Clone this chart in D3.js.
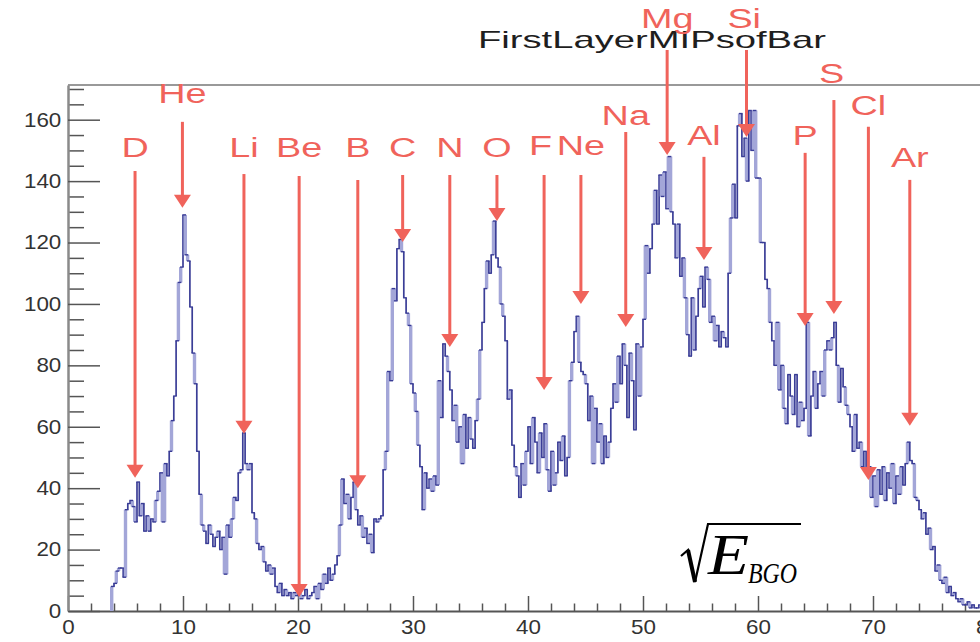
<!DOCTYPE html>
<html>
<head>
<meta charset="utf-8">
<script src="https://cdn.jsdelivr.net/npm/d3@7"></script>
<style>
  body { margin: 0; background: #fff; }
  svg { display: block; font-family: "Liberation Sans", Arial, Helvetica, sans-serif; }
</style>
</head>
<body>
<svg id="chart" width="980" height="642"></svg>
<script>
// histogram: bins of 0.2 starting at 3.8
const binStart = 3.8;
const binWidth = 0.2;
const counts = [
  8,
  9, 13, 14, 14, 11,
  33, 35, 36, 34, 29,
  42, 31, 35, 26, 31,
  26, 30, 29, 36, 39,
  45, 29, 48, 44, 52,
  62, 70, 88, 107, 112,
  129, 116, 114, 99, 84,
  74, 52, 38, 28, 26,
  22, 28, 25, 21, 24,
  26, 20, 24, 12, 28,
  24, 30, 37, 36, 45,
  46, 58, 48, 46, 48,
  32, 30, 22, 20, 21,
  16, 13, 15, 12, 14,
  8, 6, 9, 5, 7,
  5, 6, 4, 6, 5,
  6, 4, 5, 7, 4,
  5, 6, 8, 4, 9,
  7, 12, 9, 14, 10,
  12, 15, 18, 28, 43,
  35, 38, 30, 37, 42,
  33, 28, 31, 24, 27,
  22, 25, 19, 30, 29,
  30, 31, 46, 52, 78,
  75, 105, 101, 118, 121,
  117, 102, 97, 93, 74,
  71, 65, 54, 47, 33,
  45, 40, 43, 39, 44,
  41, 75, 63, 87, 83,
  78, 72, 62, 67, 55,
  60, 48, 64, 53, 63,
  56, 53, 62, 69, 85,
  94, 105, 114, 110, 116,
  127, 115, 112, 100, 96,
  88, 69, 72, 54, 47,
  44, 37, 48, 41, 52,
  60, 48, 63, 55, 45,
  58, 50, 61, 46, 39,
  52, 41, 45, 55, 49,
  57, 44, 50, 75, 81,
  91, 96, 81, 78, 77,
  74, 62, 70, 48, 66,
  55, 61, 48, 57, 50,
  55, 66, 74, 68, 83,
  74, 87, 80, 63, 84,
  75, 59, 87, 70, 86,
  95, 119, 110, 118, 126,
  137, 126, 142, 135, 143,
  131, 148, 130, 126, 115,
  126, 109, 115, 102, 90,
  83, 102, 85, 96, 105,
  109, 99, 112, 108, 94,
  96, 88, 93, 86, 91,
  89, 86, 110, 128, 139,
  128, 158, 162, 148, 154,
  140, 163, 150, 163, 141,
  141, 120, 120, 108, 105,
  94, 88, 80, 94, 72,
  80, 66, 61, 77, 70,
  64, 77, 60, 68, 62,
  66, 94, 57, 70, 78,
  66, 74, 78, 70, 85,
  88, 85, 89, 94, 80,
  68, 79, 73, 67, 64,
  60, 52, 64, 53, 55,
  47, 52, 45, 47, 37,
  44, 34, 46, 38, 47,
  36, 45, 40, 48, 35,
  44, 38, 47, 41, 48,
  55, 49, 48, 37, 36,
  33, 30, 32, 25, 27,
  20, 21, 13, 15, 10,
  9, 11, 6, 8, 5,
  6, 4, 3, 4, 2,
  2, 3, 1, 2, 1,
  1, 2, 1, 1, 0
];

// element markers
const elements   = ['D', 'He', 'Li', 'Be', 'B', 'C', 'N', 'O', 'F', 'Ne', 'Na', 'Mg', 'Al', 'Si', 'P', 'S', 'Cl', 'Ar'];
const arrowX     = [5.83, 9.95, 15.3, 20.1, 25.2, 29.1, 33.2, 37.3, 41.4, 44.6, 48.5, 52.1, 55.3, 59.0, 64.1, 66.6, 69.6, 73.2];
const arrowTop   = [143.3, 159.3, 142.3, 141.7, 140.4, 142, 142, 142, 142, 142, 156, 182.7, 147.9, 182.7, 149.2, 166.4, 157.7, 140.4];
const arrowTip   = [43.4, 131.3, 57.7, 4.6, 40.0, 120.2, 86, 127, 72, 100, 92.5, 148.5, 114.3, 154.4, 92.8, 96.7, 42.7, 60.3];
const labelY     = [147.9, 165.5, 147.9, 147.9, 147.9, 147.9, 147.9, 147.9, 148.5, 148.5, 158.3, 189.9, 151.8, 189.9, 151.8, 172, 161.6, 144.6];
const labelShift = [0, 0, 0, 0, 0, 0, 0, 0, -0.3, 0, 0, 0, 0, -0.2, 0, -0.2, 0, 0];

const xTicks = d3.range(0, 81, 10);
const yTicks = d3.range(0, 161, 20);

const svg = d3.select('#chart');
const x = d3.scaleLinear().domain([0, 80]).range([68, 988]);
const y = d3.scaleLinear().domain([0, 171.3]).range([611, 85]);

svg.append('rect').attr('width', 980).attr('height', 642).attr('fill', '#fff');

// title
svg.append('text')
  .attr('x', 478).attr('y', 48)
  .attr('font-size', 24)
  .attr('fill', '#1e1e1e')
  .attr('textLength', 348)
  .attr('lengthAdjust', 'spacingAndGlyphs')
  .text('FirstLayerMIPsofBar');

// top frame
svg.append('line')
  .attr('x1', x(0)).attr('x2', x(80))
  .attr('y1', y(171.3)).attr('y2', y(171.3))
  .attr('stroke', '#777').attr('stroke-width', 1.5);

// minor ticks
svg.append('g')
  .attr('transform', `translate(0,${y(0)})`)
  .call(d3.axisBottom(x).tickValues(d3.range(0, 81, 2).filter(d => d % 10)).tickSize(-7.5).tickFormat(''))
  .call(g => g.select('.domain').remove())
  .call(g => g.selectAll('line').attr('stroke', '#555').attr('stroke-width', 1.5));

svg.append('g')
  .attr('transform', `translate(${x(0)},0)`)
  .call(d3.axisLeft(y).tickValues(d3.range(0, 171, 5).filter(d => d % 20)).tickSize(-16).tickFormat(''))
  .call(g => g.select('.domain').remove())
  .call(g => g.selectAll('line').attr('stroke', '#555').attr('stroke-width', 1.5));

// major axes
const xAxis = svg.append('g')
  .attr('transform', `translate(0,${y(0)})`)
  .call(d3.axisBottom(x).tickValues(xTicks).tickSizeInner(-15).tickSizeOuter(0).tickPadding(9));

const yAxis = svg.append('g')
  .attr('transform', `translate(${x(0)},0)`)
  .call(d3.axisLeft(y).tickValues(yTicks).tickSizeInner(-32).tickSizeOuter(0).tickPadding(6));

xAxis.select('.domain').attr('stroke', '#555').attr('stroke-width', 1.8);
yAxis.select('.domain').attr('stroke', '#8a8a8a').attr('stroke-width', 2.5);
[xAxis, yAxis].forEach(a => {
  a.attr('font-family', null).attr('font-size', null);
  a.selectAll('.tick line').attr('stroke', '#555').attr('stroke-width', 1.5);
  a.selectAll('.tick text')
    .attr('font-size', 20)
    .attr('fill', '#333')
    .attr('transform', 'scale(1.12,1)');
});

// histogram
const edges = counts.map((v, i) => binStart + i * binWidth);
const xEnd = binStart + counts.length * binWidth;

svg.append('clipPath').attr('id', 'frame')
  .append('rect').attr('x', x(0)).attr('y', y(171.3)).attr('width', x(80) - x(0)).attr('height', y(0) - y(171.3));

const hist = svg.append('g').attr('clip-path', 'url(#frame)');

// vertical edges: those falling between pixels look washed out, like the original raster
const risers = counts.map((v, i) => [edges[i], i ? counts[i - 1] : 0, v])
  .concat([[xEnd, counts[counts.length - 1], 0]]);
const soft = d => { const f = x(d[0]) % 1; return f > 0.3 && f < 0.75; };

hist.selectAll('line.riser')
  .data(risers)
  .join('line')
  .attr('class', 'riser')
  .attr('x1', d => x(d[0])).attr('x2', d => x(d[0]))
  .attr('y1', d => y(d[1])).attr('y2', d => y(d[2]))
  .attr('stroke', d => soft(d) ? '#a3a6d8' : '#3b3e97')
  .attr('stroke-width', d => soft(d) ? 3.4 : 1.7);

hist.selectAll('line.tread')
  .data(counts.map((v, i) => [edges[i], v]))
  .join('line')
  .attr('class', 'tread')
  .attr('x1', d => x(d[0])).attr('x2', d => x(d[0] + binWidth))
  .attr('y1', d => y(d[1])).attr('y2', d => y(d[1]))
  .attr('stroke', '#383b95')
  .attr('stroke-width', 1.4)
  .attr('stroke-linecap', 'square');

// arrows and labels
const red = '#f0635b';
const arrows = svg.append('g');
elements.forEach((name, i) => {
  const ax = x(arrowX[i]);
  const tip = y(arrowTip[i]);
  arrows.append('line')
    .attr('x1', ax).attr('x2', ax)
    .attr('y1', y(arrowTop[i])).attr('y2', tip - 10)
    .attr('stroke', red).attr('stroke-width', 3);
  arrows.append('path')
    .attr('d', `M${ax - 8.5},${tip - 13}L${ax + 8.5},${tip - 13}L${ax},${tip}Z`)
    .attr('fill', red);
  arrows.append('text')
    .attr('transform', `translate(${x(arrowX[i] + labelShift[i])},${y(labelY[i])}) scale(1.4,1)`)
    .attr('text-anchor', 'middle')
    .attr('font-size', 27)
    .attr('fill', red)
    .text(name);
});

// axis title: sqrt(E_BGO)
const serif = '"Liberation Serif", "Times New Roman", "DejaVu Serif", serif';
const f = svg.append('g');
f.append('path')
  .attr('d', 'M681,556 L688,550 L695,582 L708,524 L801,524')
  .attr('fill', 'none').attr('stroke', '#000').attr('stroke-width', 2.2).attr('stroke-linejoin', 'miter');
f.append('path')
  .attr('d', 'M688,550 L695,582')
  .attr('stroke', '#000').attr('stroke-width', 4);
f.append('text')
  .attr('transform', 'translate(708,574) scale(1.2,1)')
  .style('font-family', serif)
  .style('font-style', 'italic')
  .attr('font-size', 56)
  .text('E');
f.append('text')
  .attr('x', 748).attr('y', 583)
  .style('font-family', serif)
  .style('font-style', 'italic')
  .attr('font-size', 30)
  .attr('textLength', 49).attr('lengthAdjust', 'spacingAndGlyphs')
  .text('BGO');
</script>
</body>
</html>
